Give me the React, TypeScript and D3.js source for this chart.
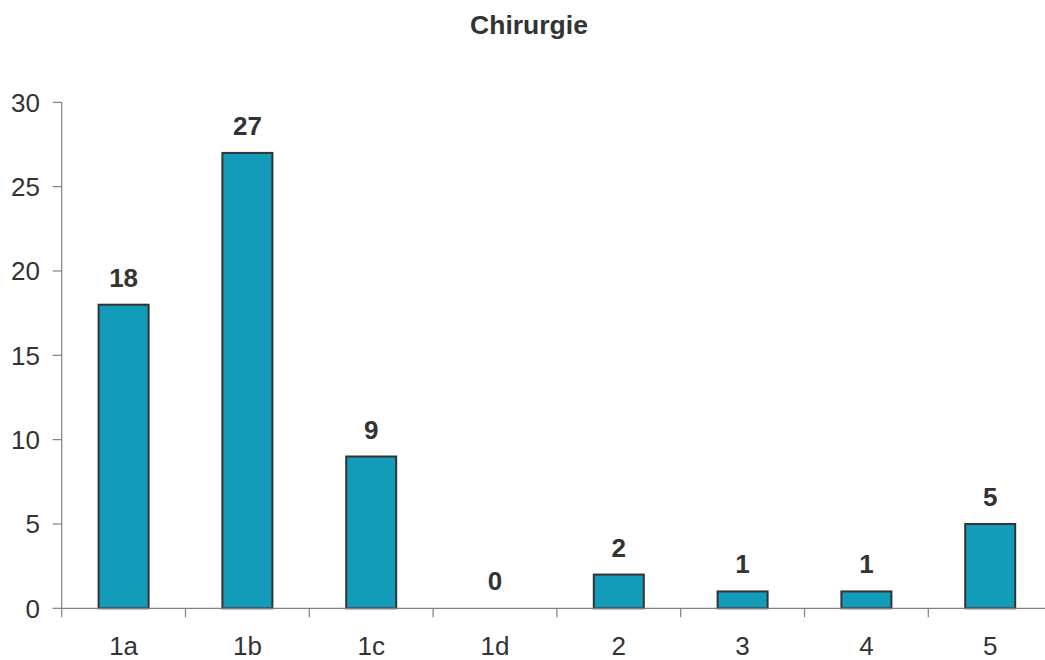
import React from "react";
import * as d3 from "d3";

const categories = ["1a", "1b", "1c", "1d", "2", "3", "4", "5"];
const values = [18, 27, 9, 0, 2, 1, 1, 5];
const yTicks = [0, 5, 10, 15, 20, 25, 30];
const title = "Chirurgie";

export default function App() {
  const W = 1045, H = 660;
  const x0 = 61.7, bandW = 123.8;
  const x = d3.scaleBand<string>().domain(categories).range([x0, x0 + bandW * categories.length]).paddingInner(0).paddingOuter(0);
  const y = d3.scaleLinear().domain([0, 30]).range([608.3, 102.3]);
  const barW = 50;
  const font = "Liberation Sans, Arial, Helvetica, sans-serif";
  const txt = "#333333";
  return (
    <svg width={W} height={H} style={{ position: "absolute", left: 0, top: 0, background: "#fff" }} fontFamily={font}>
      <text x={529} y={33.5} textAnchor="middle" fontSize={26.5} fontWeight="bold" fill={txt}>{title}</text>
      {/* y axis */}
      <line x1={x0} x2={x0} y1={y(30)} y2={y(0)} stroke="#808080" strokeWidth={1.2} />
      {yTicks.map(t => (
        <g key={t}>
          <line x1={x0 - 9} x2={x0} y1={y(t)} y2={y(t)} stroke="#808080" strokeWidth={1.2} />
          <text x={40} y={y(t)} dy="0.36em" textAnchor="end" fontSize={26} fill={txt}>{t}</text>
        </g>
      ))}
      {/* bars */}
      {categories.map((c, i) => {
        const cx = (x(c) as number) + x.bandwidth() / 2;
        const v = values[i];
        return (
          <g key={c}>
            {v > 0 && (
              <rect x={cx - barW / 2} y={y(v)} width={barW} height={y(0) - y(v)} fill="#139cba" stroke="#333333" strokeWidth={2} />
            )}
            <text x={cx} y={y(v) - 18} textAnchor="middle" fontSize={26} fontWeight="bold" fill={txt}>{v}</text>
            <text x={cx} y={655} textAnchor="middle" fontSize={26} fill={txt}>{c}</text>
          </g>
        );
      })}
      {/* x axis */}
      <line x1={x0} x2={x0 + bandW * categories.length} y1={y(0)} y2={y(0)} stroke="#808080" strokeWidth={1.2} />
      {d3.range(categories.length + 1).map(i => (
        <line key={i} x1={x0 + bandW * i} x2={x0 + bandW * i} y1={y(0)} y2={y(0) + 9} stroke="#808080" strokeWidth={1.2} />
      ))}
    </svg>
  );
}
